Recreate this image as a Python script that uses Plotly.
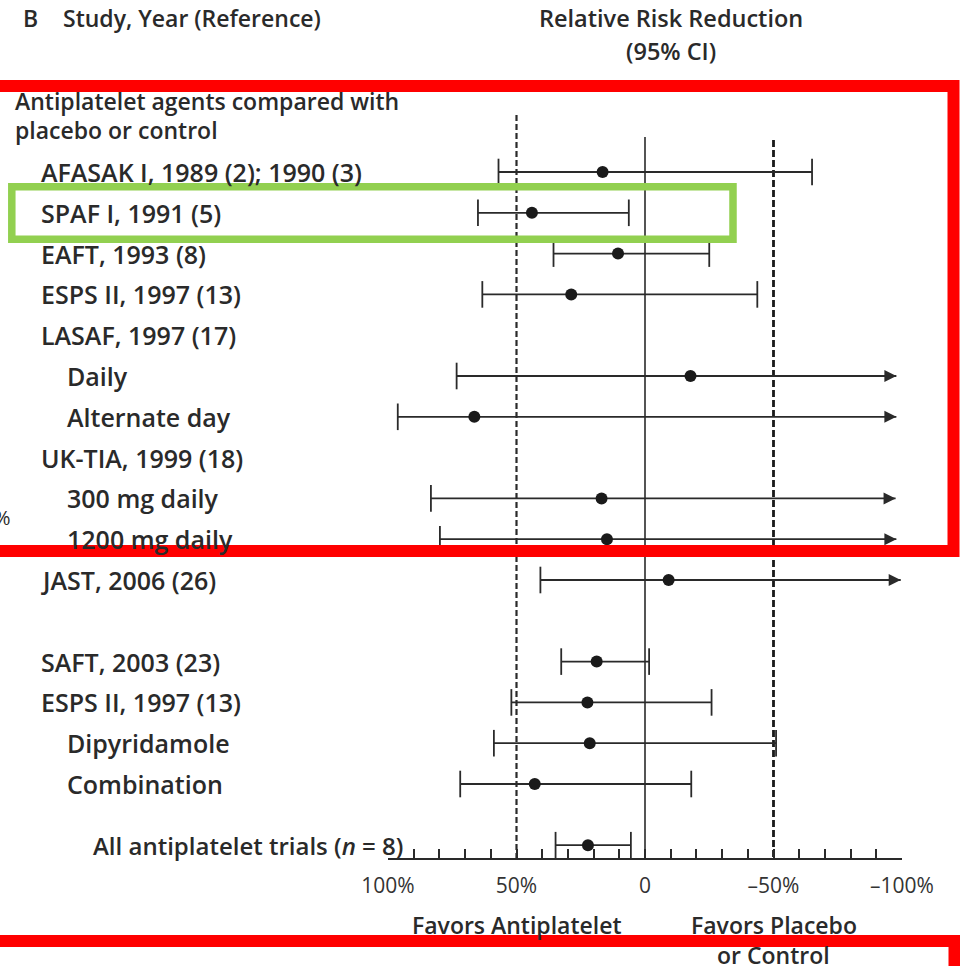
import plotly.graph_objects as go

# ---------------- data ----------------
labels = ["AFASAK I, 1989 (2); 1990 (3)", "SPAF I, 1991 (5)", "EAFT, 1993 (8)",
          "ESPS II, 1997 (13)", "LASAF, 1997 (17)", "Daily", "Alternate day",
          "UK-TIA, 1999 (18)", "300 mg daily", "1200 mg daily", "JAST, 2006 (26)",
          "SAFT, 2003 (23)", "ESPS II, 1997 (13)", "Dipyridamole", "Combination",
          "All antiplatelet trials (<i>n</i> = 8)"]
row_index = [0, 1, 2, 3, 4, 5, 6, 7, 8, 9, 10, 12, 13, 14, 15, 16.5]
indent = [0, 0, 0, 0, 0, 1, 1, 0, 1, 1, 0, 0, 0, 1, 1, 2]
rrr = [16.5, 44, 10.5, 28.7, None, -17.7, 66.4, None, 16.9, 14.8, -9.2,
       18.8, 22.4, 21.5, 42.9, 22.2]
ci_low = [57, 65, 35.6, 63.3, None, 73.3, 96.2, None, 83.3, 79.8, 40.7,
          32.6, 52, 58.8, 71.9, 34.8]
ci_high = [-65, 6.3, -25, -43.7, None, -97.8, -97.8, None, -97.5, -97.8, -99.5,
           -1.6, -25.9, -51, -18, 5.5]
open_end = [False, False, False, False, None, True, True, None, True, True, True,
            False, False, False, False, False]

tick_vals = [100, 90, 80, 70, 60, 50, 40, 30, 20, 10, 0, -10, -20, -30, -40,
             -50, -60, -70, -80, -90, -100]
tick_text = {100: "100%", 50: "50%", 0: "0", -50: "\u201350%", -100: "\u2013100%"}

# ---------------- geometry helpers ----------------
W, H = 960, 966
ML, MR, MT, MB = 388, 58, 0, 108
PW, PH = W - ML - MR, H - MT - MB
ROW0, ROWH = 172, 40.8          # pixel centre of row 0, row pitch


def px2paper_x(px):
    return (px - ML) / PW


def py2paper_y(py):
    return 1 - (py - MT) / PH


y_top = (MT - ROW0) / ROWH
y_bot = (MT + PH - ROW0) / ROWH

INK = "#2a2a2a"
FONT = "Open Sans"

fig = go.Figure()

# CI lines
lx, ly = [], []
cap_x, cap_y, arr_x, arr_y, pt_x, pt_y = [], [], [], [], [], []
for r, lo, hi, op, p in zip(row_index, ci_low, ci_high, open_end, rrr):
    if p is None:
        continue
    lx += [lo, hi, None]
    ly += [r, r, None]
    cap_x.append(lo); cap_y.append(r)
    if op:
        arr_x.append(hi); arr_y.append(r)
    else:
        cap_x.append(hi); cap_y.append(r)
    pt_x.append(p); pt_y.append(r)

fig.add_trace(go.Scatter(x=lx, y=ly, mode="lines",
                         line=dict(color=INK, width=1.8), hoverinfo="skip"))
fig.add_trace(go.Scatter(x=cap_x, y=cap_y, mode="markers",
                         marker=dict(symbol="line-ns", size=19,
                                     line=dict(color=INK, width=1.8)),
                         hoverinfo="skip"))
fig.add_trace(go.Scatter(x=arr_x, y=arr_y, mode="markers",
                         marker=dict(symbol="arrow-right", size=12, color=INK,
                                     line=dict(width=0)),
                         hoverinfo="skip"))
fig.add_trace(go.Scatter(x=pt_x, y=pt_y, mode="markers",
                         marker=dict(symbol="circle", size=12, color="#1a1a1a",
                                     line=dict(width=0)),
                         hoverinfo="skip"))

shapes = []
# reference lines
shapes.append(dict(type="line", xref="x", yref="y", x0=0, x1=0,
                   y0=(137 - ROW0) / ROWH, y1=y_bot,
                   line=dict(color=INK, width=1.6), layer="below"))
shapes.append(dict(type="line", xref="x", yref="y", x0=50, x1=50,
                   y0=(115 - ROW0) / ROWH, y1=y_bot,
                   line=dict(color=INK, width=2.2, dash="6px,3px"), layer="below"))
shapes.append(dict(type="line", xref="x", yref="y", x0=-50, x1=-50,
                   y0=(140 - ROW0) / ROWH, y1=y_bot,
                   line=dict(color="#1a1a1a", width=2.8, dash="7px,3px"), layer="below"))

# highlight boxes (overlay)
RED = "#ff0000"
shapes.append(dict(type="rect", xref="paper", yref="paper",
                   x0=px2paper_x(-40), x1=px2paper_x(953.5),
                   y0=py2paper_y(551), y1=py2paper_y(86),
                   line=dict(color=RED, width=12), fillcolor="rgba(0,0,0,0)",
                   layer="above"))
shapes.append(dict(type="rect", xref="paper", yref="paper",
                   x0=px2paper_x(-40), x1=px2paper_x(954.5),
                   y0=py2paper_y(1040), y1=py2paper_y(941),
                   line=dict(color=RED, width=12), fillcolor="rgba(0,0,0,0)",
                   layer="above"))
shapes.append(dict(type="rect", xref="paper", yref="paper",
                   x0=px2paper_x(11.8), x1=px2paper_x(733),
                   y0=py2paper_y(239.3), y1=py2paper_y(186.8),
                   line=dict(color="#92d050", width=7.5), fillcolor="rgba(0,0,0,0)",
                   layer="above"))

ann = []


def text(s, px, py, size=23, anchor="left", weight=600, color=INK):
    ann.append(dict(text=s, xref="paper", yref="paper",
                    x=px2paper_x(px), y=py2paper_y(py),
                    xanchor=anchor, yanchor="middle", showarrow=False,
                    font=dict(family=FONT, size=size, color=color, weight=weight)))


# headers
text("B", 21, 18)
text("Study, Year (Reference)", 61, 18)
text("Relative Risk Reduction", 671, 18, size=23.5, anchor="center")
text("(95% CI)", 671, 51, size=23.5, anchor="center")
text("Antiplatelet agents compared with", 13, 101)
text("placebo or control", 13, 130)
text("%", 13, 517, size=20, anchor="right", weight=400)

indent_px = [39, 65, 91]
for lab, r, ind in zip(labels, row_index, indent):
    text(lab, indent_px[ind], ROW0 + r * ROWH, size=25 if ind < 2 else 24)

# axis captions
text("Favors Antiplatelet", ML + (100 - 50) / 200 * PW, 925, anchor="center")
text("Favors Placebo", ML + (100 + 50) / 200 * PW, 925, anchor="center")
text("or Control", ML + (100 + 50) / 200 * PW, 955, anchor="center")

fig.update_layout(
    width=W, height=H,
    margin=dict(l=ML, r=MR, t=MT, b=MB, pad=0),
    paper_bgcolor="white", plot_bgcolor="white",
    showlegend=False,
    shapes=shapes, annotations=ann,
    xaxis=dict(range=[100, -100], showgrid=False, zeroline=False,
               showline=True, linecolor=INK, linewidth=1.6,
               ticks="inside", ticklen=9, tickwidth=1.5, tickcolor=INK,
               tickvals=tick_vals,
               ticktext=[tick_text.get(v, "") for v in tick_vals],
               tickfont=dict(family=FONT, size=21, color="#333333"),
               ticklabelstandoff=8, fixedrange=True),
    yaxis=dict(range=[y_bot, y_top], visible=False, showgrid=False,
               zeroline=False, fixedrange=True),
)

fig.write_html("out.html", config={"displayModeBar": False},
               post_script="document.body.style.margin='0';document.body.style.overflow='hidden';")
